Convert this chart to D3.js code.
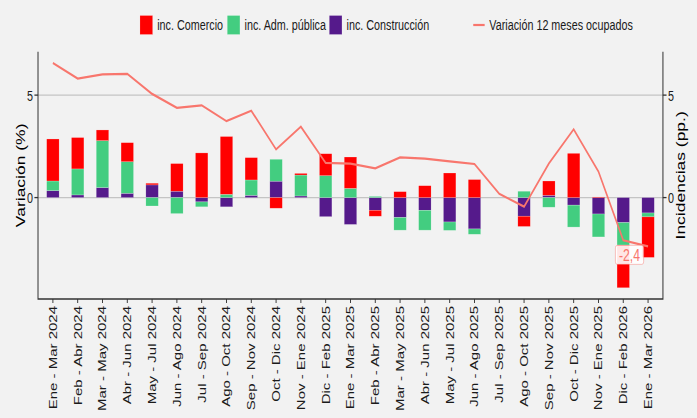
<!DOCTYPE html>
<html>
<head>
<meta charset="utf-8">
<script src="https://cdn.jsdelivr.net/npm/d3@7"></script>
<style>
  html, body { margin: 0; padding: 0; background: #f2f2f2; }
  svg { display: block; font-family: "Liberation Sans", Arial, sans-serif; }
</style>
</head>
<body>
<div id="chart"></div>
<script>
const periods = ["Ene - Mar 2024", "Feb - Abr 2024", "Mar - May 2024", "Abr - Jun 2024", "May - Jul 2024",
  "Jun - Ago 2024", "Jul - Sep 2024", "Ago - Oct 2024", "Sep - Nov 2024", "Oct - Dic 2024", "Nov - Ene 2024",
  "Dic - Feb 2025", "Ene - Mar 2025", "Feb - Abr 2025", "Mar - May 2025", "Abr - Jun 2025", "May - Jul 2025",
  "Jun - Ago 2025", "Jul - Sep 2025", "Ago - Oct 2025", "Sep - Nov 2025", "Oct - Dic 2025", "Nov - Ene 2025",
  "Dic - Feb 2026", "Ene - Mar 2026"];

const comercio = [2.05, 1.53, 0.52, 0.93, 0.08, 1.35, 2.18, 2.82, 1.09, -0.52, 0.08, 1.07, 1.53,
  -0.29, 0.29, 0.58, 1.20, 0.88, 0, -0.50, 0.70, 2.16, 0.03, -2.08, -1.98];
const admPublica = [0.47, 1.27, 2.29, 1.54, -0.41, -0.78, -0.24, 0.16, 0.75, 1.07, 1.02, 1.07, 0.45,
  0.06, -0.62, -0.97, -0.41, -0.26, 0, 0.31, -0.47, -1.07, -1.12, -1.10, -0.19];
const construccion = [0.34, 0.13, 0.49, 0.21, 0.62, 0.31, -0.21, -0.45, 0.11, 0.80, 0.08, -0.93, -1.31,
  -0.62, -0.97, -0.62, -1.19, -1.53, 0, -0.91, 0.11, -0.37, -0.80, -1.22, -0.75];
const ocupados = [6.57, 5.81, 6.01, 6.04, 5.06, 4.38, 4.50, 3.73, 4.24, 2.35, 3.46, 1.69, 1.66,
  1.43, 1.96, 1.90, 1.77, 1.64, 0.18, -0.44, 1.66, 3.33, 1.27, -2.08, -2.38];

const yTicks = [0, 5];
const seriesNames = ["inc. Construcción", "inc. Adm. pública", "inc. Comercio"];
const seriesColors = ["#551a8b", "#43cd80", "#ff0000"];
const lineName = "Variación 12 meses ocupados";
const lineColor = "#f8766d";

// the original is a wider render squeezed to 697 px, so draw in wide units
const W = 970, H = 418;
const svg = d3.select("#chart").append("svg")
  .attr("width", 697).attr("height", H)
  .attr("viewBox", `0 0 ${W} ${H}`)
  .attr("preserveAspectRatio", "none");

svg.append("rect").attr("width", W).attr("height", H).attr("fill", "#f2f2f2");

const panel = { left: 52.9, right: 922.6, top: 51.7, bottom: 299 };

const rows = periods.map((p, i) => ({
  period: p,
  "inc. Construcción": construccion[i],
  "inc. Adm. pública": admPublica[i],
  "inc. Comercio": comercio[i]
}));
const stacked = d3.stack().keys(seriesNames).offset(d3.stackOffsetDiverging)(rows);

const x = d3.scalePoint().domain(periods).range([panel.left, panel.right]).padding(0.6);
const barW = x.step() * 0.5;

const lo = Math.min(d3.min(stacked, s => d3.min(s, d => d[0])), d3.min(ocupados));
const hi = Math.max(d3.max(stacked, s => d3.max(s, d => d[1])), d3.max(ocupados));
const pad = (hi - lo) * 0.05;
const y = d3.scaleLinear().domain([lo - pad, hi + pad]).range([panel.bottom, panel.top]);

// grid
svg.append("g").selectAll("line").data(yTicks).join("line")
  .attr("x1", panel.left).attr("x2", panel.right)
  .attr("y1", d => y(d)).attr("y2", d => y(d))
  .attr("stroke", "#c4c4c4").attr("stroke-width", 1.3);

// bars
svg.append("g").selectAll("g").data(stacked).join("g")
  .attr("fill", (d, i) => seriesColors[i])
  .selectAll("rect").data(d => d).join("rect")
  .attr("x", d => x(d.data.period) - barW / 2)
  .attr("width", barW)
  .attr("y", d => y(Math.max(d[0], d[1])))
  .attr("height", d => Math.abs(y(d[0]) - y(d[1])))
  .attr("stroke", "#ffffff").attr("stroke-opacity", 0.35).attr("stroke-width", 0.6);

// line
const line = d3.line().x((d, i) => x(periods[i])).y(d => y(d));
svg.append("path").datum(ocupados)
  .attr("d", line).attr("fill", "none")
  .attr("stroke", lineColor).attr("stroke-width", 2.2);

// label on the last point
const lastI = ocupados.length - 1;
const lab = svg.append("g")
  .attr("transform", `translate(${x(periods[lastI]) - 25.8},${y(ocupados[lastI]) + 8.5})`);
const labText = lab.append("text")
  .attr("text-anchor", "middle").attr("dy", "0.36em")
  .attr("font-size", 17).attr("fill", lineColor)
  .text(ocupados[lastI].toFixed(1).replace(".", ","));
const bb = labText.node().getBBox();
lab.insert("rect", "text")
  .attr("x", bb.x - 5).attr("y", -9.5).attr("width", bb.width + 10).attr("height", 19)
  .attr("rx", 2.5).attr("fill", "#ffffff").attr("fill-opacity", 0.9)
  .attr("stroke", lineColor).attr("stroke-opacity", 0.5).attr("stroke-width", 1);

// axes
const axisCol = "#333";
svg.append("path")
  .attr("d", `M${panel.left},${panel.top}V${panel.bottom}H${panel.right}V${panel.top}`)
  .attr("fill", "none").attr("stroke", axisCol).attr("stroke-width", 1.4);

const yl = svg.append("g");
yl.selectAll("line.l").data(yTicks).join("line").attr("class", "l")
  .attr("x1", panel.left - 5).attr("x2", panel.left)
  .attr("y1", d => y(d)).attr("y2", d => y(d)).attr("stroke", axisCol).attr("stroke-width", 1.3);
yl.selectAll("text.l").data(yTicks).join("text").attr("class", "l")
  .attr("x", panel.left - 7).attr("y", d => y(d)).attr("dy", "0.36em")
  .attr("text-anchor", "end").attr("font-size", 15).attr("fill", "#1a1a1a").text(d => d);
yl.selectAll("line.r").data(yTicks).join("line").attr("class", "r")
  .attr("x1", panel.right).attr("x2", panel.right + 5)
  .attr("y1", d => y(d)).attr("y2", d => y(d)).attr("stroke", axisCol).attr("stroke-width", 1.3);
yl.selectAll("text.r").data(yTicks).join("text").attr("class", "r")
  .attr("x", panel.right + 7).attr("y", d => y(d)).attr("dy", "0.36em")
  .attr("text-anchor", "start").attr("font-size", 15).attr("fill", "#1a1a1a").text(d => d);

const xl = svg.append("g");
xl.selectAll("line").data(periods).join("line")
  .attr("x1", d => x(d)).attr("x2", d => x(d))
  .attr("y1", panel.bottom).attr("y2", panel.bottom + 4)
  .attr("stroke", axisCol).attr("stroke-width", 1.3);
xl.selectAll("text").data(periods).join("text")
  .attr("transform", d => `translate(${x(d)},${panel.bottom + 7}) rotate(-90)`)
  .attr("dy", "0.36em").attr("text-anchor", "end")
  .attr("font-size", 15).attr("fill", "#1a1a1a").text(d => d);

// axis titles
const midY = (panel.top + panel.bottom) / 2;
svg.append("text")
  .attr("transform", `translate(28.5,${midY}) rotate(-90)`)
  .attr("dy", "0.35em").attr("text-anchor", "middle")
  .attr("font-size", 17.5).attr("fill", "#000").text("Variación (%)");
svg.append("text")
  .attr("transform", `translate(947.7,${midY}) rotate(-90)`)
  .attr("dy", "0.35em").attr("text-anchor", "middle")
  .attr("font-size", 17.5).attr("fill", "#000").text("Incidencias (pp.)");

// legend
const legY = 25;
const fillLegend = [
  { name: "inc. Comercio", color: "#ff0000", x: 194.8 },
  { name: "inc. Adm. pública", color: "#43cd80", x: 316.3 },
  { name: "inc. Construcción", color: "#551a8b", x: 458.3 }
];
const leg = svg.append("g");
fillLegend.forEach(d => {
  leg.append("rect").attr("x", d.x).attr("y", legY - 9.5).attr("width", 17.6).attr("height", 19)
    .attr("fill", d.color).attr("stroke", "#ffffff").attr("stroke-opacity", 0.35).attr("stroke-width", 0.6);
  leg.append("text").attr("x", d.x + 24).attr("y", legY).attr("dy", "0.36em")
    .attr("font-size", 15).attr("fill", "#1a1a1a").text(d.name);
});
leg.append("line").attr("x1", 658.6).attr("x2", 674.5).attr("y1", legY).attr("y2", legY)
  .attr("stroke", lineColor).attr("stroke-width", 2.2);
leg.append("text").attr("x", 681).attr("y", legY).attr("dy", "0.36em")
  .attr("font-size", 15).attr("fill", "#1a1a1a").text(lineName);
</script>
</body>
</html>
